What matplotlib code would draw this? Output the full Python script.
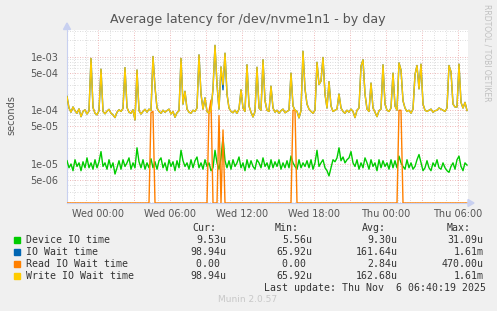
import numpy as np
import matplotlib.pyplot as plt
from matplotlib.patches import Rectangle, Polygon

W, H = 497, 311

# samples every 10 minutes, first one at Tue 21:25 (hours relative to Wed 00:00)
t_start = -2.5833
t_step = 1 / 6

# Device IO time, microseconds
device_io_us = [
    11.5, 8.5, 10, 7.5, 12, 9, 10.5, 7.5, 11, 8.5, 13, 8.5, 10.5, 8, 12, 8.5, 11, 17, 9, 10.5,
    8, 12, 8.5, 10.5, 6.5, 8.5, 11.5, 8, 12, 9, 10.5, 13, 8, 10.5, 8.5, 20, 11, 8.5, 12, 8,
    10.5, 8.5, 12.5, 8.5, 11, 8, 11.5, 13, 8.5, 10.5, 7.5, 12, 9, 11, 7.5, 11.5, 8.5, 18, 11.5, 9,
    10.5, 8, 12, 8.5, 11.5, 13.5, 8.5, 10.5, 8, 12, 9, 10.5, 7.5, 8.5, 18, 10.5, 8, 13, 31, 11.5,
    8.5, 11.5, 8, 12, 9, 10.5, 13.5, 8.5, 10.5, 7.5, 12, 8.5, 11.5, 9, 8, 12, 10.5, 8.5, 13, 9,
    10.5, 8, 12, 8.5, 11, 9, 12, 8, 10.5, 8.5, 11.5, 8.5, 14, 10.5, 9, 8, 12, 8.5, 10.5, 9,
    11.5, 8.5, 12, 8, 10.5, 18, 9, 10.5, 12, 8.5, 7.5, 6, 8.5, 12, 11, 13, 20, 11.5, 13.5, 10.5,
    12, 13, 17, 10.5, 9, 12, 8, 10.5, 8.5, 13, 10.5, 8, 12, 9, 10.5, 7.5, 12, 8.5, 11.5, 9,
    10.5, 8, 12, 8.5, 11.5, 8.5, 14, 10.5, 9, 8, 12, 8.5, 10.5, 8, 9, 12, 15, 10.5, 7.5, 8.5,
    11.5, 8.5, 7.5, 10.5, 9, 12, 8.5, 8, 10.5, 8.5, 7.5, 7, 9, 10.5, 8, 12, 14, 9, 7.5, 10.5,
    9.53,
]

# Write IO Wait time, microseconds
write_wait_us = [
    180, 110, 92, 115, 98, 88, 106, 76, 95, 102, 85, 97, 920, 112, 88, 82, 98, 580, 95, 86,
    96, 104, 88, 82, 73, 92, 102, 95, 108, 620, 112, 92, 88, 102, 66, 560, 98, 85, 95, 104,
    92, 105, 98, 1000, 270, 110, 95, 88, 100, 92, 98, 105, 85, 95, 74, 90, 98, 920, 130, 225,
    105, 92, 88, 100, 95, 110, 1070, 200, 105, 170, 95, 88, 100, 250, 1610, 300, 105, 640, 300, 1150,
    200, 110, 95, 90, 100, 88, 105, 240, 110, 95, 700, 120, 92, 75, 95, 630, 110, 100, 870, 150,
    100, 95, 280, 110, 92, 100, 88, 98, 105, 90, 95, 100, 490, 120, 100, 95, 72, 98, 1250, 250,
    130, 105, 95, 88, 100, 780, 300, 350, 960, 200, 110, 340, 120, 95, 100, 105, 200, 110, 95, 88,
    100, 92, 105, 95, 73, 100, 110, 660, 870, 200, 105, 95, 320, 110, 92, 76, 98, 105, 700, 130,
    100, 95, 110, 490, 120, 100, 760, 560, 150, 110, 95, 100, 88, 105, 460, 680, 250, 720, 130, 100,
    95, 100, 105, 92, 98, 100, 110, 105, 100, 95, 110, 680, 520, 130, 115, 115, 720, 140, 110, 140,
    98.94,
]

# IO Wait time follows write wait except where reads happened
io_wait_diff_idx = [78]
io_wait_diff_us = [240]

# Read IO Wait time: zero except these samples
read_idx = [42, 43, 71, 72, 76, 78, 113, 114, 166, 167]
read_val_us = [90, 95, 95, 155, 80, 43, 100, 100, 100, 100]

ytick_vals = [5e-6, 1e-5, 5e-5, 1e-4, 5e-4, 1e-3]
ytick_labels = ["5e-06", "1e-05", "5e-05", "1e-04", "5e-04", "1e-03"]
xtick_hours = [0, 6, 12, 18, 24, 30]
xtick_labels = ["Wed 00:00", "Wed 06:00", "Wed 12:00", "Wed 18:00", "Thu 00:00", "Thu 06:00"]

names = ["Device IO time", "IO Wait time", "Read IO Wait time", "Write IO Wait time"]
colors = ["#00CC00", "#0066B3", "#FF8000", "#FFCC00"]
cur_vals = ["9.53u", "98.94u", "0.00 ", "98.94u"]
min_vals = ["5.56u", "65.92u", "0.00 ", "65.92u"]
avg_vals = ["9.30u", "161.64u", "2.84u", "162.68u"]
max_vals = ["31.09u", "1.61m", "470.00u", "1.61m"]

# build series
n = len(write_wait_us)
t = t_start + np.arange(n) * t_step
device = np.array(device_io_us) * 1e-6
write = np.array(write_wait_us) * 1e-6
io = write.copy()
io[io_wait_diff_idx] = np.array(io_wait_diff_us) * 1e-6
read = np.zeros(n)
read[read_idx] = np.array(read_val_us) * 1e-6

ymin, ymax = 1.88e-6, 3.18e-3
xmin, xmax = (67 - 98) / 12, (468 - 98) / 12


def fx(x):
    return x / W


def fy(y):
    return 1 - y / H


fig = plt.figure(figsize=(W / 100, H / 100), dpi=100, facecolor="#F0F0F0")
ax = fig.add_axes([fx(67), fy(203), (468 - 67) / W, (203 - 29.5) / H])
ax.set_facecolor("white")
ax.set_yscale("log")
ax.set_xlim(xmin, xmax)
ax.set_ylim(ymin, ymax)

# grid, drawn by hand like rrdtool
for e in range(-6, -1):
    for m in range(1, 10):
        v = m * 10.0 ** e
        if ymin < v < ymax:
            major = m in (1, 5)
            ax.axhline(v, color="#E9A0A0" if major else "#D0D0D0", lw=0.6,
                       ls=(0, (1, 2)), zorder=0)
for hr in range(-2, 31):
    major = hr % 3 == 0
    ax.axvline(hr, color="#E9A0A0" if major else "#D0D0D0", lw=0.6,
               ls=(0, (1, 2)), zorder=0)

ax.plot(t, device, color=colors[0], lw=1.0, zorder=3)
ax.plot(t, io, color=colors[1], lw=1.0, zorder=3)
ax.plot(t, np.where(read > 0, read, ymin), color=colors[2], lw=1.0, zorder=3)
ax.plot(t, write, color=colors[3], lw=1.0, zorder=3)

for s in ["top", "right"]:
    ax.spines[s].set_visible(False)
for s in ["left", "bottom"]:
    ax.spines[s].set_color("#C8D0F0")
    ax.spines[s].set_linewidth(0.8)

ax.set_yticks(ytick_vals)
ax.set_yticklabels(ytick_labels)
ax.yaxis.set_minor_locator(plt.NullLocator())
ax.set_xticks(xtick_hours)
ax.set_xticklabels(xtick_labels)
ax.tick_params(axis="both", length=0, labelsize=7, colors="#555555")
ax.tick_params(axis="y", pad=6)
ax.tick_params(axis="x", pad=4)

# axis arrows
fig.patches.append(Polygon([[fx(468), fy(199.5)], [fx(474), fy(203)], [fx(468), fy(206.5)]],
                           closed=True, color="#C8D0F0", transform=fig.transFigure))
fig.patches.append(Polygon([[fx(63.5), fy(29.5)], [fx(67), fy(23)], [fx(70.5), fy(29.5)]],
                           closed=True, color="#C8D0F0", transform=fig.transFigure))

fig.text(fx(248), fy(19.5), "Average latency for /dev/nvme1n1 - by day",
         ha="center", va="center", fontsize=9.1, color="#555555")
fig.text(fx(11), fy(115), "seconds", rotation=90, ha="center", va="center",
         fontsize=7, color="#555555")
fig.text(fx(487), fy(4), "RRDTOOL / TOBI OETIKER", rotation=270, ha="center", va="top",
         fontsize=5.5, color="#C0C0C0")

# legend
mono = "DejaVu Sans Mono"
cw = 5.93
fs = 7.1
headers = ["Cur:", "Min:", "Avg:", "Max:"]
header_x = [192, 275, 361.5, 446.5]
for hx, hd in zip(header_x, headers):
    fig.text(fx(hx), fy(228), hd, family=mono, fontsize=fs, color="#333333", va="center")

row_y = [240, 252, 264, 276]
col_right = [225.6, 311.6, 397, 483]
for i in range(4):
    fig.patches.append(Rectangle((fx(14), fy(row_y[i] + 3)), 5.5 / W, 6 / H,
                                 color=colors[i], transform=fig.transFigure))
    fig.text(fx(26), fy(row_y[i]), names[i], family=mono, fontsize=fs,
             color="#333333", va="center")
    for cr, col in zip(col_right, [cur_vals, min_vals, avg_vals, max_vals]):
        s = col[i]
        fig.text(fx(cr - len(s) * cw), fy(row_y[i]), s, family=mono, fontsize=fs,
                 color="#333333", va="center")

s = "Last update: Thu Nov  6 06:40:19 2025"
fig.text(fx(483 - len(s) * cw), fy(288), s, family=mono, fontsize=fs,
         color="#333333", va="center")
fig.text(fx(248), fy(300), "Munin 2.0.57", ha="center", va="center",
         fontsize=6.5, color="#C8C8C8")

fig.savefig("out.png", dpi=100, facecolor=fig.get_facecolor())
